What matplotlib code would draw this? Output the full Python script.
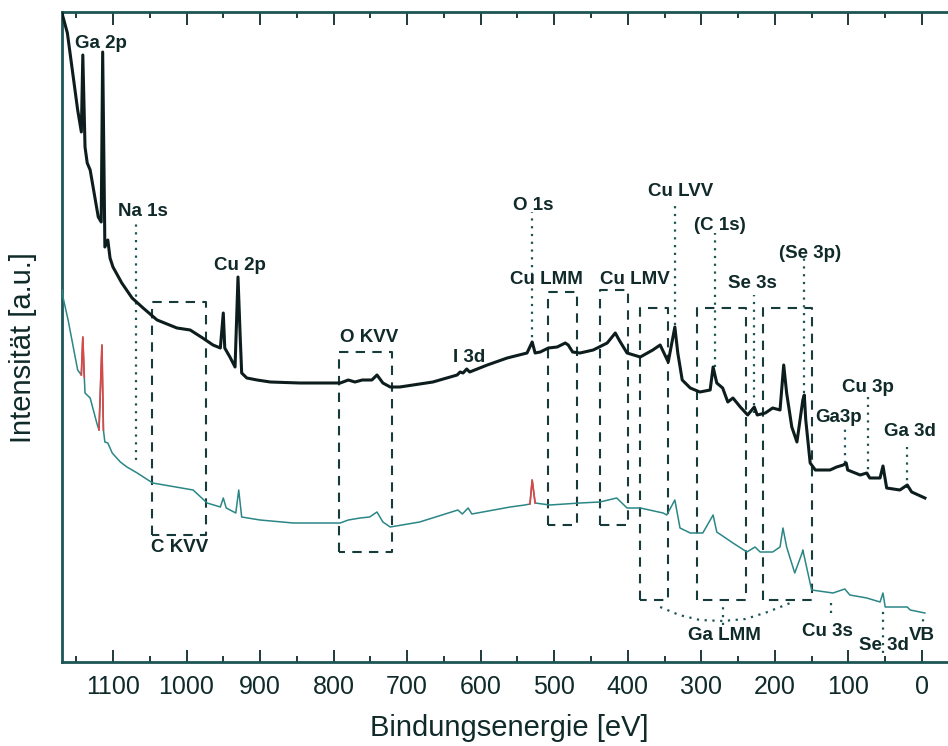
import numpy as np
import matplotlib
matplotlib.use("Agg")
import matplotlib.pyplot as plt

plt.rcParams["font.family"] = ["Liberation Sans", "DejaVu Sans"]

# XPS survey spectra: binding energy [eV] and intensity [a.u.]
upper_energy = [1169, 1162, 1154, 1148, 1143, 1141, 1138, 1135, 1131, 1120,
                1116, 1114, 1111, 1107, 1104, 1100, 1088, 1074, 1059, 1040,
                1013, 995, 978, 964, 954, 950, 948, 941, 934, 930,
                927, 925, 918, 904, 886, 846, 791, 780, 771, 761,
                748, 741, 733, 723, 710, 665, 632, 628, 624, 619,
                615, 591, 564, 537, 530, 526, 519, 508, 496, 485,
                481, 475, 465, 447, 428, 417, 411, 401, 383, 366,
                356, 345, 336, 332, 326, 315, 302, 288, 284, 279,
                271, 264, 257, 247, 237, 228, 224, 213, 203, 193,
                188, 184, 177, 170, 162, 160, 158, 152, 145, 125,
                116, 107, 103, 101, 84, 75, 71, 57, 53, 48,
                30, 20, 14, 5, -4]
upper_counts = [648, 629, 585, 552, 530, 607, 515, 499, 492, 445,
                440, 610, 415, 422, 404, 395, 379, 364, 354, 342,
                334, 332, 324, 317, 314, 349, 314, 305, 295, 385,
                325, 289, 284, 282, 280, 279, 279, 282, 280, 282,
                282, 287, 279, 275, 275, 280, 287, 290, 289, 293,
                290, 297, 304, 309, 320, 309, 310, 314, 315, 319,
                317, 310, 309, 312, 319, 329, 321, 309, 305, 312,
                317, 300, 335, 309, 282, 274, 270, 272, 295, 279,
                274, 260, 264, 255, 247, 255, 247, 249, 254, 252,
                297, 269, 235, 220, 262, 267, 242, 199, 192, 192,
                195, 197, 199, 192, 187, 189, 184, 184, 196, 174,
                172, 177, 170, 167, 164]

lower_energy = [1169, 1168, 1161, 1154, 1148, 1143, 1141, 1139, 1138, 1131,
                1122, 1119, 1115, 1113, 1111, 1107, 1101, 1090, 1081, 1067,
                1046, 991, 972, 954, 950, 946, 933, 929, 925, 900,
                855, 791, 780, 764, 751, 741, 733, 723, 683, 631,
                625, 617, 612, 560, 540, 533, 530, 526, 506, 465,
                438, 415, 401, 383, 352, 347, 336, 329, 315, 298,
                284, 279, 257, 238, 227, 220, 203, 193, 189, 184,
                173, 163, 162, 156, 150, 121, 105, 98, 75, 57,
                53, 50, 20, 16, -4]
lower_counts = [372, 365, 342, 315, 292, 287, 325, 285, 269, 264,
                239, 232, 317, 232, 220, 219, 209, 200, 195, 189,
                179, 172, 159, 155, 164, 154, 149, 172, 145, 142,
                139, 139, 142, 144, 145, 150, 140, 135, 140, 152,
                148, 154, 148, 155, 157, 158, 182, 159, 157, 159,
                160, 164, 154, 154, 149, 147, 162, 134, 129, 129,
                147, 130, 119, 110, 115, 110, 110, 115, 134, 115,
                89, 109, 112, 92, 72, 69, 73, 67, 64, 60,
                69, 55, 55, 52, 49]

# energy windows where the lower spectrum shows up red
red_windows = [(1143, 1139), (1119, 1113), (533, 526)]

# dashed regions (Auger lines): high/low energy, bottom/top intensity
box_high = [1047, 793, 508, 438, 383, 306, 216]
box_low = [973, 721, 469, 400, 345, 239, 150]
box_bottom = [127, 110, 137, 137, 62, 62, 62]
box_top = [360, 310, 370, 372, 354, 354, 354]

# dotted marker lines
marker_energy = [1069, 530, 336, 281, 228, 160, 105, 73, 20, 124, 53, -1, 271]
marker_bottom = [202, 317, 337, 295, 249, 269, 199, 185, 174, 49, 9, 25, 37]
marker_top = [440, 450, 457, 429, 367, 404, 235, 265, 215, 60, 55, 44, 59]

# dotted arc joining the three Ga LMM boxes
arc_energy = [356, 330, 302, 271, 240, 210, 179]
arc_level = [55, 47, 42, 41, 43, 50, 59]

label_text = ["Ga 2p", "Na 1s", "Cu 2p", "C KVV", "O KVV", "I 3d", "O 1s",
              "Cu LMM", "Cu LMV", "Cu LVV", "(C 1s)", "Se 3s", "(Se 3p)",
              "Ga3p", "Cu 3p", "Ga 3d", "Ga LMM", "Cu 3s", "Se 3d", "VB"]
label_energy = [1117, 1059, 927, 1009, 752, 616, 528,
                510, 390, 328, 275, 230, 152,
                113, 73, 16, 269, 129, 52, 0]
label_level = [618, 450, 396, 114, 324, 305, 457,
               382, 382, 470, 436, 379, 409,
               244, 275, 231, 26, 31, 17, 26]

ink = "#102a2a"
frame = "#1d5555"

fig = plt.figure(figsize=(9.48, 7.46), dpi=100)
ax = fig.add_axes([62 / 948, 84 / 746, 886 / 948, 650 / 746])

ue = np.array(upper_energy)
uc = np.array(upper_counts, dtype=float)
le = np.array(lower_energy)
lc = np.array(lower_counts, dtype=float)

ax.plot(le, lc, color="#2b8686", linewidth=1.1, zorder=3)
for hi, lo in red_windows:
    mask = (le <= hi) & (le >= lo)
    ax.plot(le[mask], lc[mask], color="#e04545", linewidth=1.2, zorder=4)
ax.plot(ue, uc, color="#0d1d1d", linewidth=2.2, zorder=5)

for hi, lo, b, t in zip(box_high, box_low, box_bottom, box_top):
    ax.plot([hi, hi, lo, lo, hi], [b, t, t, b, b], color="#173a3a",
            linestyle=(0, (4.5, 3.5)), linewidth=1.5, zorder=2)

for e, b, t in zip(marker_energy, marker_bottom, marker_top):
    ax.plot([e, e], [b, t], color=frame, linestyle=(0, (1, 2.5)),
            linewidth=1.6, zorder=2)
ax.plot(arc_energy, arc_level, color=frame, linestyle=(0, (1, 2.5)),
        linewidth=1.6, zorder=2)

for txt, e, lv in zip(label_text, label_energy, label_level):
    ax.text(e, lv, txt, ha="center", va="center", fontsize=13.5,
            fontweight="bold", color=ink, zorder=6)

ax.set_xlim(1169.3, -35.4)
ax.set_ylim(0, 650)
ax.set_yticks([])
ax.set_xticks(np.arange(0, 1101, 100))
ax.set_xticks(np.arange(50, 1151, 100), minor=True)
ax.tick_params(axis="x", which="both", direction="in", top=True, bottom=True,
               labelsize=18, pad=9, colors=ink, width=1.3)
ax.tick_params(axis="x", which="major", length=9)
ax.tick_params(axis="x", which="minor", length=4.5)
ax.spines["right"].set_visible(False)
for side in ["left", "bottom", "top"]:
    ax.spines[side].set_color(frame)
    ax.spines[side].set_linewidth(2)

fig.text(509 / 948, 1 - 728 / 746, "Bindungsenergie [eV]", ha="center",
         va="center", fontsize=21, color=ink)
fig.text(23 / 948, 1 - 348 / 746, "Intensität [a.u.]", ha="center",
         va="center", rotation=90, fontsize=21, color=ink)

fig.savefig("out.png", dpi=100)
